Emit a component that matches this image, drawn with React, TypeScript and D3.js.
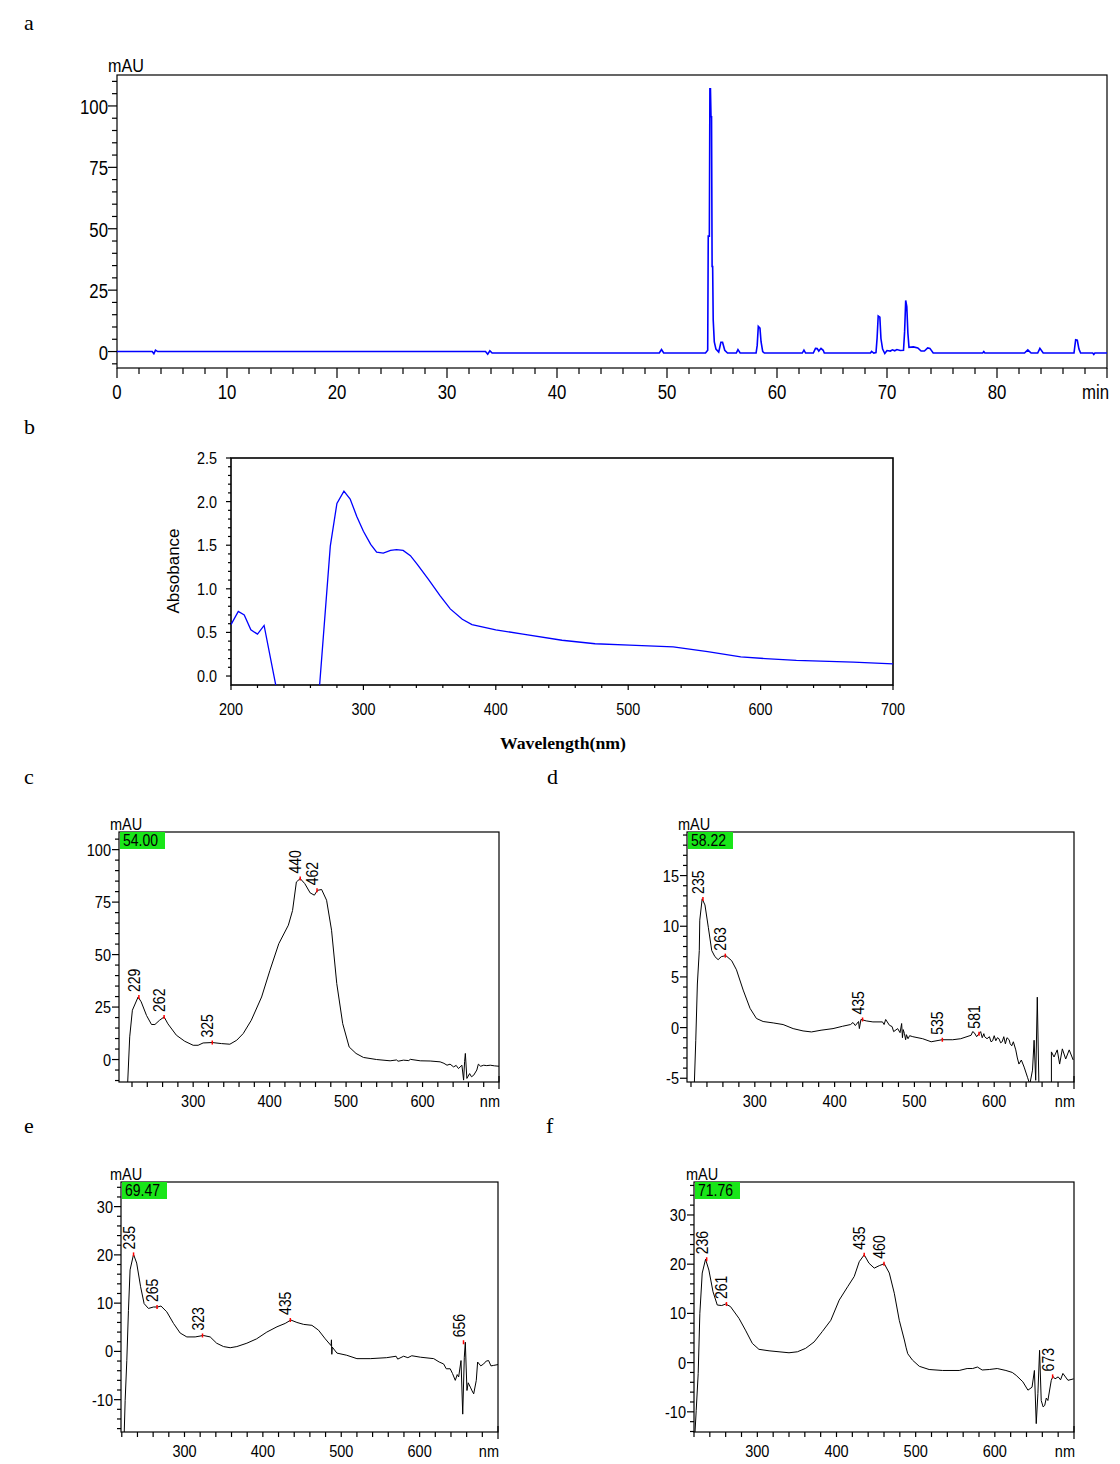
import React from 'react';
import * as d3 from 'd3';

const SANS = '"Liberation Sans", Arial, sans-serif';
const SERIF = '"Liberation Serif", "Times New Roman", serif';

// ---------- Panel a: chromatogram (time min, mAU) ----------
const chromTrace: [number, number][] = [
  [0, 0], [3.2, 0], [3.35, -0.9], [3.5, 0.6], [3.7, 0], [33.5, 0], [33.7, -1.1], [33.9, 0.3], [34.1, -0.6],
  [49.3, -0.6], [49.5, 0.8], [49.7, -0.6], [53.5, -0.6], [53.7, 0.5], [53.75, 47], [53.85, 47], [53.9, 107],
  [53.95, 107], [54.0, 95.6], [54.05, 95.6], [54.1, 34.6], [54.15, 34.6], [54.2, 13], [54.3, 3.9], [54.45, 1],
  [54.7, -0.2], [54.9, 3.8], [55.05, 3.8], [55.25, 0.5], [55.5, -0.6], [56.3, -0.6], [56.45, 0.8], [56.65, -0.6],
  [58.1, -0.6], [58.2, 2.5], [58.3, 10.2], [58.45, 9.5], [58.55, 4], [58.7, 0], [58.85, -0.6], [62.3, -0.6],
  [62.45, 0.6], [62.6, -0.6], [63.3, -0.6], [63.5, 1.3], [63.65, 1.2], [63.8, 0.2], [64.0, 1.3], [64.2, 0.5],
  [64.3, -0.6], [68.5, -0.6], [68.6, 0.1], [68.8, -0.6], [69.0, -0.4], [69.1, 5.5], [69.2, 14.5], [69.35, 14],
  [69.45, 5.3], [69.6, 1], [69.8, -0.8], [70.0, 0.4], [70.3, 0.2], [70.5, 0.7], [70.7, 0.3], [70.9, 0.8],
  [71.2, 0.4], [71.5, 0.5], [71.6, 8], [71.7, 20.8], [71.8, 18.3], [71.9, 7.4], [72.0, 1.7], [72.4, 1.9],
  [72.8, 1.5], [73.1, 0.2], [73.4, 0.2], [73.7, 1.5], [73.9, 1.3], [74.2, -0.6], [78.7, -0.6], [78.8, 0],
  [78.9, -0.6], [82.5, -0.6], [82.8, 0.7], [83.1, -0.6], [83.7, -0.6], [83.9, 1.3], [84.2, -0.6], [87.0, -0.6],
  [87.15, 4.8], [87.3, 4.6], [87.45, 1], [87.6, -0.6], [88.7, -0.6], [88.8, -1.2], [88.9, -0.6], [90, -0.6],
];
const chromXTicks = [0, 10, 20, 30, 40, 50, 60, 70, 80];
const chromYTicks = [0, 25, 50, 75, 100];

// ---------- Panel b: absorbance spectrum ----------
const absTrace: [number, number][] = [
  [200, 0.59], [205.5, 0.74], [210, 0.70], [215, 0.53], [220, 0.48], [225, 0.58], [234.4, -0.15], [266.7, -0.15],
  [275, 1.49], [280, 1.98], [285.3, 2.12], [290, 2.03], [295, 1.83], [300, 1.66], [305.5, 1.51], [310, 1.42],
  [315, 1.41], [320.5, 1.44], [325, 1.45], [330, 1.44], [335.5, 1.38], [340.7, 1.28], [349, 1.11], [358, 0.92],
  [365.6, 0.77], [374.7, 0.65], [382, 0.59], [400, 0.53], [420.5, 0.48], [450, 0.41], [475, 0.37], [501, 0.355],
  [534, 0.335], [560, 0.28], [585, 0.22], [603.5, 0.20], [627, 0.18], [670, 0.16], [700, 0.14],
];
const absXTicks = [200, 300, 400, 500, 600, 700];
const absYTicks = [0, 0.5, 1.0, 1.5, 2.0, 2.5];

// ---------- Panels c-f: DAD spectra (nm, mAU) ----------
const specC: [number, number][] = [
  [214, -14], [217, 10.8], [220.5, 23.5], [228, 29.8], [232, 27.5], [239, 21], [245.5, 16.7], [250, 16.7],
  [256, 18.7], [262, 20.3], [267, 17], [278, 11.6], [289, 8.7], [300, 6.8], [306.5, 6.8], [313, 7.9], [325, 8.1],
  [337, 7.6], [348, 7.3], [357, 9.2], [365.5, 12.4], [376, 18.7], [389.5, 29.8], [400.4, 42.5], [412, 55.2],
  [424.5, 64], [430, 71], [435, 84.6], [440, 86.2], [446, 83.8], [453, 79.4], [458.5, 78.3], [462.5, 80.6],
  [468, 81], [474.5, 75.9], [481, 61.6], [487.8, 36.2], [495.6, 17.1], [504, 6], [513, 2.9], [522.7, 1],
  [540, 0], [557.6, -0.6], [566, -0.2], [568, -0.8], [575, -0.3], [582, -0.5], [584, 0.1], [597, -0.6],
  [610, -0.7], [623, -1.1], [628, -1.8], [632, -2.7], [636, -2.2], [640.6, -3.5], [644, -2.8], [647, -4.3],
  [651.5, -2.7], [653.7, -9.8], [655, -1], [656, 2.9], [658, -9], [661.6, -6.7], [664, -8.2], [666.8, -7.5],
  [671, -5], [673, -2.2], [676, -3.2], [680, -2.7], [684, -2.9], [688.6, -2.7], [694, -3], [700, -3.2],
];
const peaksC: [number, number, string][] = [
  [229, 29.8, '229'], [262, 20.3, '262'], [325, 8.1, '325'], [440, 86.2, '440'], [462, 80.6, '462'],
];

const specD: [number, number][] = [
  [224, -6], [226, -1.25], [228, 4.3], [230.4, 7.6], [231, 10.6], [234, 12.7], [237.5, 12.1], [241.7, 9.9],
  [246, 7.6], [250, 7.0], [254, 6.7], [258, 7.0], [263.7, 7.1], [271, 6.6], [277, 5.7], [285.4, 3.7],
  [294, 1.9], [302, 0.9], [310.4, 0.6], [323, 0.46], [335.4, 0.3], [348, -0.1], [360.4, -0.33], [371, -0.43],
  [383, -0.26], [398, -0.1], [410, 0.13], [420, 0.3], [423, 0.5], [426, 0.2], [430, 0.6], [431, -0.1],
  [433, 0.8], [439.6, 0.66], [448, 0.56], [460, 0.56], [462, 0.3], [464, 0.8], [468.7, 0.23], [472, 0.1],
  [474, -0.4], [479, -0.1], [482, -0.5], [484, 0.4], [485, -1.0], [486, -0.2], [487.5, -0.6], [489, -1.2],
  [490, -0.7], [492, -1.1], [494, -0.8], [498, -0.9], [510.4, -1.1], [521, -1.4], [534.6, -1.2], [548, -1.2],
  [558, -1.1], [571, -0.76], [573, -0.4], [575, -0.5], [578, -0.9], [581, -0.6], [583, -0.4], [585, -1.0],
  [587, -0.6], [588, -0.9], [591, -1.1], [594, -0.9], [596, -1.4], [598, -1.3], [600, -0.8], [602, -1.3],
  [604, -1.0], [606, -1.1], [608, -1.5], [610, -1.4], [612, -0.9], [614, -1.6], [616, -1.0], [618.7, -1.2],
  [620, -1.6], [622, -1.8], [624, -1.4], [627, -2.2], [629, -3.0], [631, -3.6], [634, -3.2], [637.5, -3.9],
  [641.7, -4.9], [644.6, -5.6], [648, -4.2], [650, -1.25], [652, -5.2], [654, 3.0], [656, -5.6], [671.7, -5.6],
  [671.7, -2.4], [675, -2.9], [679, -2.2], [682, -3.6], [685.4, -2.1], [689.6, -3.1], [694, -2.2], [699, -3.2],
];
const peaksD: [number, number, string][] = [
  [235, 12.7, '235'], [263, 7.1, '263'], [435, 0.8, '435'], [535, -1.2, '535'], [581, -0.6, '581'],
];

const specE: [number, number][] = [
  [223, -17.5], [224.3, -10.2], [226.4, -1.9], [228.5, 8.5], [230.6, 16.9], [235, 20.1], [239, 18.3],
  [244, 13.4], [248.5, 9.9], [254, 8.9], [260.4, 9.2], [265.5, 9.2], [270, 9.4], [277.4, 8.2], [286, 5.8],
  [294.5, 3.8], [303, 3.0], [313.6, 3.0], [324, 3.3], [332.8, 3.0], [341, 1.7], [349.8, 1.0], [358.3, 0.76],
  [366.8, 1.0], [379.6, 1.7], [392, 2.6], [405, 4.0], [418, 5.1], [428.5, 5.8], [435.7, 6.5], [443.4, 6.0],
  [452, 5.6], [462.6, 5.4], [471, 4.4], [479.6, 2.6], [487, 1.2], [487.5, 2.4], [488, -0.6], [488.5, 0.9],
  [494.5, -0.35], [507, -0.8], [520, -1.5], [537, -1.5], [558, -1.3], [570, -1.0], [572, -1.6], [579.6, -1.0],
  [585, -1.3], [590, -0.9], [601, -1.2], [618, -1.5], [625, -2.2], [630.6, -2.6], [634, -3.6], [639, -3.6],
  [642, -4.6], [645.5, -6.0], [648, -4.8], [649.8, -5.3], [652.8, -1.9], [655, -13], [657, -1.2],
  [658.3, 1.9], [660.4, -8.1], [662, -6.5], [664.7, -7.4], [667, -8.2], [669, -8.8], [672.3, -6.0],
  [674, -2.2], [678, -3.0], [681.7, -2.6], [685, -2.0], [688, -1.9], [691, -3.0], [694.5, -2.9], [701, -2.7],
];
const peaksE: [number, number, string][] = [
  [235, 20.1, '235'], [265, 9.2, '265'], [323, 3.3, '323'], [435, 6.5, '435'], [656, 1.9, '656'],
];

const specF: [number, number][] = [
  [221, -15], [222.8, -9.7], [225.3, -2.2], [227.4, 10], [230.4, 18.2], [234.6, 21], [238.8, 18.8],
  [244, 14.4], [249.4, 11.7], [255, 11.6], [260, 11.9], [266, 11.4], [276.8, 9.0], [285, 6.6], [293.7, 3.9],
  [302, 2.7], [314.8, 2.4], [327.4, 2.2], [340, 2.0], [350.6, 2.2], [361, 2.9], [371.7, 4.2], [382, 6.3],
  [392.8, 8.6], [403.4, 12.7], [414, 15.4], [422.4, 17.5], [428.7, 20.5], [435, 21.9], [441, 20.2],
  [447.7, 19.2], [454, 19.7], [460.3, 20.1], [466.7, 18.2], [473, 14.1], [479.3, 8.6], [485.7, 4.6],
  [488, 3.0], [490, 1.8], [496, 0.5], [504.6, -0.75], [517, -1.4], [534, -1.6], [555, -1.6], [565, -1.2],
  [572, -1.2], [578, -0.9], [584, -1.5], [593, -1.4], [603, -1.2], [614, -1.6], [622, -2.0], [627, -2.6],
  [635.4, -3.9], [641.8, -5.6], [647, -5.0], [650, -1.6], [652.3, -12.4], [654.4, -6.3], [656.5, 2.5],
  [658.6, -7.7], [661, -9.0], [663, -8.7], [665, -7.2], [667, -7.7], [671.3, -3.6], [673.4, -2.8],
  [676, -3.3], [680, -2.9], [683, -3.5], [686, -2.2], [692.4, -3.6], [699.6, -3.3],
];
const peaksF: [number, number, string][] = [
  [236, 21, '236'], [261, 11.9, '261'], [435, 21.9, '435'], [460, 20.1, '460'], [673, -2.8, '673'],
];

const specXTicks = [300, 400, 500, 600];

type P = [number, number];

function Txt({ x, y, children, size = 15, sx = 0.88, anchor = 'start', rotate = 0, family = SANS, weight = 'normal' }: any) {
  const tr = `translate(${x},${y})${rotate ? ` rotate(${rotate})` : ''} scale(${sx},1)`;
  return (
    <text transform={tr} fontFamily={family} fontSize={size} fontWeight={weight} textAnchor={anchor} fill="#000">
      {children}
    </text>
  );
}

function Chromatogram() {
  const L = 117, R = 1107, T = 75, B = 368;
  const x = d3.scaleLinear().domain([0, 90]).range([L, R]);
  const y = d3.scaleLinear().domain([-6.7, 112.6]).range([B, T]);
  const line = d3.line<P>().x(d => x(d[0])).y(d => y(d[1]));
  const xMinor = d3.range(0, 91, 2);
  const yMinor = d3.range(-5, 111, 5);
  return (
    <g>
      <defs>
        <clipPath id="clipA"><rect x={L} y={T} width={R - L} height={B - T} /></clipPath>
      </defs>
      <rect x={L} y={T} width={R - L} height={B - T} fill="none" stroke="#000" strokeWidth={1.2} />
      {xMinor.map(t => (
        <line key={'xm' + t} x1={x(t)} x2={x(t)} y1={B} y2={B + (t % 10 === 0 ? 10 : 6)} stroke="#000" strokeWidth={1.2} />
      ))}
      {yMinor.map(t => (
        <line key={'ym' + t} x1={L - (t % 25 === 0 ? 9 : 5)} x2={L} y1={y(t)} y2={y(t)} stroke="#000" strokeWidth={1.2} />
      ))}
      {chromXTicks.map(t => (
        <Txt key={'xl' + t} x={x(t)} y={399} size={21} sx={0.8} anchor="middle">{t}</Txt>
      ))}
      <Txt x={1109} y={399} size={21} sx={0.8} anchor="end">min</Txt>
      {chromYTicks.map(t => (
        <Txt key={'yl' + t} x={L - 9} y={y(t) + 8} size={21} sx={0.8} anchor="end">{t}</Txt>
      ))}
      <Txt x={108} y={72} size={19} sx={0.85}>mAU</Txt>
      <path d={line(chromTrace) || ''} fill="none" stroke="#0000ff" strokeWidth={1.6} clipPath="url(#clipA)" />
    </g>
  );
}

function Absorbance() {
  const L = 231, R = 893, T = 458, B = 685;
  const x = d3.scaleLinear().domain([200, 700]).range([L, R]);
  const y = d3.scaleLinear().domain([-0.103, 2.5]).range([B, T]);
  const line = d3.line<P>().x(d => x(d[0])).y(d => y(d[1]));
  const xMinor = d3.range(200, 701, 20);
  const yMinor = d3.range(0, 2.51, 0.1);
  return (
    <g>
      <defs>
        <clipPath id="clipB"><rect x={L} y={T} width={R - L} height={B - T} /></clipPath>
      </defs>
      <rect x={L} y={T} width={R - L} height={B - T} fill="none" stroke="#000" strokeWidth={1.6} />
      {xMinor.map(t => (
        <line key={'bxm' + t} x1={x(t)} x2={x(t)} y1={B} y2={B + (t % 100 === 0 ? 5 : 3)} stroke="#000" strokeWidth={1.2} />
      ))}
      {yMinor.map((t, i) => (
        <line key={'bym' + i} x1={L - (i % 5 === 0 ? 5 : 3)} x2={L} y1={y(t)} y2={y(t)} stroke="#000" strokeWidth={1.2} />
      ))}
      {absXTicks.map(t => (
        <Txt key={'bxl' + t} x={x(t)} y={715} size={16} sx={0.9} anchor="middle">{t}</Txt>
      ))}
      {absYTicks.map(t => (
        <Txt key={'byl' + t} x={217} y={y(t) + 6} size={16} sx={0.9} anchor="end">{t.toFixed(1)}</Txt>
      ))}
      <Txt x={179} y={571} size={17} sx={1} rotate={-90} anchor="middle">Absobance</Txt>
      <text x={563} y={749} fontFamily={SERIF} fontSize={17} fontWeight="bold" textAnchor="middle"
        textLength={126} lengthAdjust="spacingAndGlyphs">Wavelength(nm)</text>
      <path d={line(absTrace) || ''} fill="none" stroke="#0000ff" strokeWidth={1.3} clipPath="url(#clipB)" />
    </g>
  );
}

function Spectrum({ id, L, R, T, B, xDomain, yDomain, yTicks, yStep, data, peaks, rt, mauX }: any) {
  const x = d3.scaleLinear().domain(xDomain).range([L, R]);
  const y = d3.scaleLinear().domain(yDomain).range([B, T]);
  const line = d3.line<P>().x(d => x(d[0])).y(d => y(d[1]));
  const xMinor = d3.range(220, 701, 20).filter(t => t >= xDomain[0]);
  const yMinor = d3.range(Math.ceil(yDomain[0] / yStep) * yStep, yDomain[1], yStep);
  const pos = (nm: number, v: number) => [x(nm), y(v)];
  return (
    <g>
      <defs>
        <clipPath id={'clip' + id}><rect x={L} y={T} width={R - L} height={B - T} /></clipPath>
      </defs>
      <rect x={L} y={T} width={R - L} height={B - T} fill="none" stroke="#000" strokeWidth={1.2} />
      {xMinor.map(t => (
        <line key={'m' + t} x1={x(t)} x2={x(t)} y1={B} y2={B + (t === 700 ? 7 : 5)} stroke="#000" strokeWidth={1.2} />
      ))}
      <line x1={R} x2={R} y1={B - 6} y2={B} stroke="#000" strokeWidth={1.2} />
      {yMinor.map((t: number, i: number) => {
        const major = yTicks.some((v: number) => Math.abs(v - t) < 1e-6);
        return <line key={'ym' + i} x1={L - (major ? 7 : 4)} x2={L} y1={y(t)} y2={y(t)} stroke="#000" strokeWidth={1.2} />;
      })}
      {specXTicks.map(t => (
        <Txt key={'xl' + t} x={x(t)} y={B + 25} size={16.5} sx={0.88} anchor="middle">{t}</Txt>
      ))}
      <Txt x={R + 1} y={B + 25} size={16.5} sx={0.88} anchor="end">nm</Txt>
      {yTicks.map((t: number) => (
        <Txt key={'yl' + t} x={L - 8} y={y(t) + 6} size={16.5} sx={0.88} anchor="end">{t}</Txt>
      ))}
      <Txt x={mauX} y={T - 2} size={16.5} sx={0.88}>mAU</Txt>
      <rect x={L + 1} y={T} width={45} height={17} fill="#19e619" />
      <Txt x={L + 4} y={T + 14} size={16.5} sx={0.85}>{rt}</Txt>
      <path d={line(data) || ''} fill="none" stroke="#000" strokeWidth={1} clipPath={`url(#clip${id})`} />
      {peaks.map((p: [number, number, string]) => {
        const [px, py] = pos(p[0], p[1]);
        return (
          <g key={'pk' + p[2]}>
            <line x1={px} x2={px} y1={py - 2} y2={py + 2} stroke="#ff0000" strokeWidth={1.5} />
            <Txt x={px + 1} y={py - 5} size={16.5} sx={0.85} rotate={-90}>{p[2]}</Txt>
          </g>
        );
      })}
    </g>
  );
}

function Letter({ x, y, t }: any) {
  return <text x={x} y={y} fontFamily={SERIF} fontSize={22} fill="#000">{t}</text>;
}

export default function App() {
  return (
    <svg width={1120} height={1464} style={{ position: 'absolute', left: 0, top: 0, background: '#fff' }}>
      <rect width={1120} height={1464} fill="#fff" />
      <Letter x={24} y={30} t="a" />
      <Letter x={24} y={434} t="b" />
      <Letter x={24} y={784} t="c" />
      <Letter x={547} y={784} t="d" />
      <Letter x={24} y={1133} t="e" />
      <Letter x={546} y={1133} t="f" />
      <Chromatogram />
      <Absorbance />
      <Spectrum id="C" L={119} R={499} T={832} B={1082} xDomain={[203, 700]} yDomain={[-10.7, 108.4]}
        yTicks={[0, 25, 50, 75, 100]} yStep={5} data={specC} peaks={peaksC} rt="54.00" mauX={110} />
      <Spectrum id="D" L={687} R={1074} T={832} B={1082} xDomain={[215, 700]} yDomain={[-5.37, 19.3]}
        yTicks={[-5, 0, 5, 10, 15]} yStep={1} data={specD} peaks={peaksD} rt="58.22" mauX={678} />
      <Spectrum id="E" L={121} R={498} T={1182} B={1432} xDomain={[219, 700]} yDomain={[-16.7, 35.1]}
        yTicks={[-10, 0, 10, 20, 30]} yStep={2} data={specE} peaks={peaksE} rt="69.47" mauX={110} />
      <Spectrum id="F" L={694} R={1074} T={1182} B={1432} xDomain={[220, 700]} yDomain={[-14.1, 36.7]}
        yTicks={[-10, 0, 10, 20, 30]} yStep={2} data={specF} peaks={peaksF} rt="71.76" mauX={686} />
    </svg>
  );
}
